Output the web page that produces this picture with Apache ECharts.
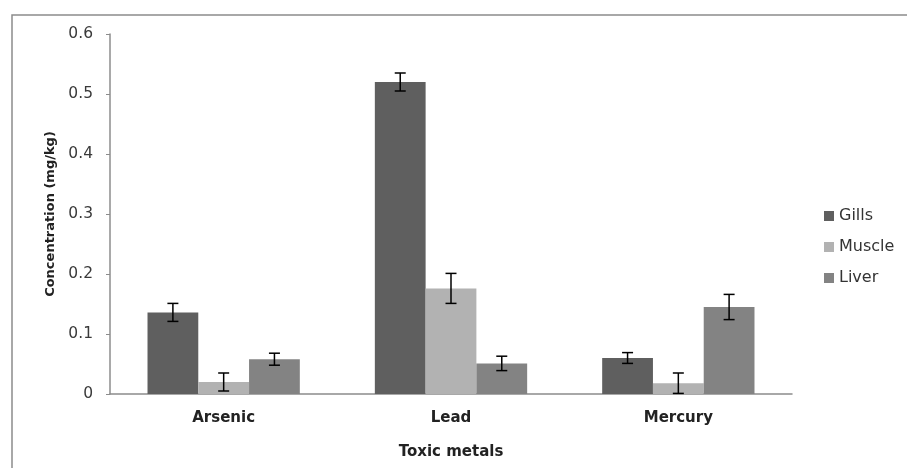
<!DOCTYPE html>
<html>
<head>
<meta charset="utf-8">
<script src="https://cdn.jsdelivr.net/npm/echarts@6/dist/echarts.min.js"></script>
<style>html,body{margin:0;padding:0;background:#fff}#c{width:907px;height:468px}</style>
</head>
<body>
<div id="c"></div>
<script>
const categories = ['Arsenic', 'Lead', 'Mercury'];
const seriesNames = ['Gills', 'Muscle', 'Liver'];
const gills = [0.136, 0.52, 0.06];
const muscle = [0.02, 0.176, 0.018];
const liver = [0.058, 0.051, 0.145];
const gillsErr = [0.015, 0.015, 0.009];
const muscleErr = [0.015, 0.025, 0.017];
const liverErr = [0.01, 0.012, 0.021];
const yTicks = [0, 0.1, 0.2, 0.3, 0.4, 0.5, 0.6];

const values = [gills, muscle, liver];
const errs = [gillsErr, muscleErr, liverErr];
const colors = ['#5f5f5f', '#b2b2b2', '#838383'];
const catGap = 0.33;

const chart = echarts.init(document.getElementById('c'));

const barSeries = seriesNames.map((n, i) => ({
  name: n, type: 'bar', data: values[i], barGap: '0%', barCategoryGap: '33%',
  itemStyle: { color: colors[i] }, z: 2
}));

const errData = [];
values.forEach((vals, s) => vals.forEach((v, c) => errData.push([c, v, errs[s][c], s])));

const errSeries = {
  type: 'custom', z: 5, silent: true,
  data: errData,
  encode: { x: 0, y: 1 },
  renderItem: function (params, api) {
    const c = api.value(0), v = api.value(1), e = api.value(2), s = api.value(3);
    const band = api.size([1, 0])[0];
    const bw = band * (1 - catGap) / 3;
    const cx = api.coord([c, v])[0] + (s - 1) * bw;
    const yt = api.coord([c, v + e])[1];
    const yb = api.coord([c, v - e])[1];
    const hw = 5.5;
    const st = { stroke: '#000', lineWidth: 1.5 };
    return { type: 'group', children: [
      { type: 'line', shape: { x1: cx, y1: yt, x2: cx, y2: yb }, style: st },
      { type: 'line', shape: { x1: cx - hw, y1: yt, x2: cx + hw, y2: yt }, style: st },
      { type: 'line', shape: { x1: cx - hw, y1: yb, x2: cx + hw, y2: yb }, style: st }
    ]};
  }
};

chart.setOption({
  animation: false,
  backgroundColor: '#fff',
  grid: { left: 110, right: 115, top: 34, bottom: 74 },
  graphic: [{ type: 'rect', shape: { x: 12, y: 15, width: 1000, height: 1000 },
    style: { fill: 'none', stroke: '#8c8c8c', lineWidth: 1.5 }, silent: true }],
  legend: {
    orient: 'vertical', left: 819, top: 203, itemWidth: 10, itemHeight: 10, itemGap: 15,
    icon: 'rect',
    data: seriesNames,
    textStyle: { fontFamily: 'DejaVu Sans', fontSize: 16, color: '#333', padding: [0, 0, 0, 0] }
  },
  xAxis: {
    type: 'category', data: categories,
    name: 'Toxic metals', nameLocation: 'middle', nameGap: 51,
    nameTextStyle: { fontFamily: 'DejaVu Sans', fontWeight: 'bold', fontSize: 15, color: '#222' },
    axisLine: { lineStyle: { color: '#8c8c8c', width: 1.5 } },
    axisTick: { length: 5, lineStyle: { color: '#8c8c8c' } },
    axisLabel: { fontFamily: 'DejaVu Sans', fontWeight: 'bold', fontSize: 15, color: '#222', margin: 17 }
  },
  yAxis: {
    type: 'value', min: 0, max: 0.6, interval: 0.1,
    name: 'Concentration (mg/kg)', nameLocation: 'middle', nameGap: 52, nameRotate: 90,
    nameTextStyle: { fontFamily: 'DejaVu Sans', fontWeight: 'bold', fontSize: 13, color: '#222' },
    axisLine: { show: true, lineStyle: { color: '#8c8c8c', width: 1.5 } },
    axisTick: { show: true, length: 4, lineStyle: { color: '#8c8c8c' } },
    splitLine: { show: false },
    axisLabel: { fontFamily: 'DejaVu Sans', fontSize: 15.5, color: '#3a3a3a', margin: 17,
      formatter: v => { const t = yTicks.find(x => Math.abs(x - v) < 1e-9); return t === undefined ? '' : String(t); } }
  },
  series: [...barSeries, errSeries]
});
</script>
</body>
</html>
